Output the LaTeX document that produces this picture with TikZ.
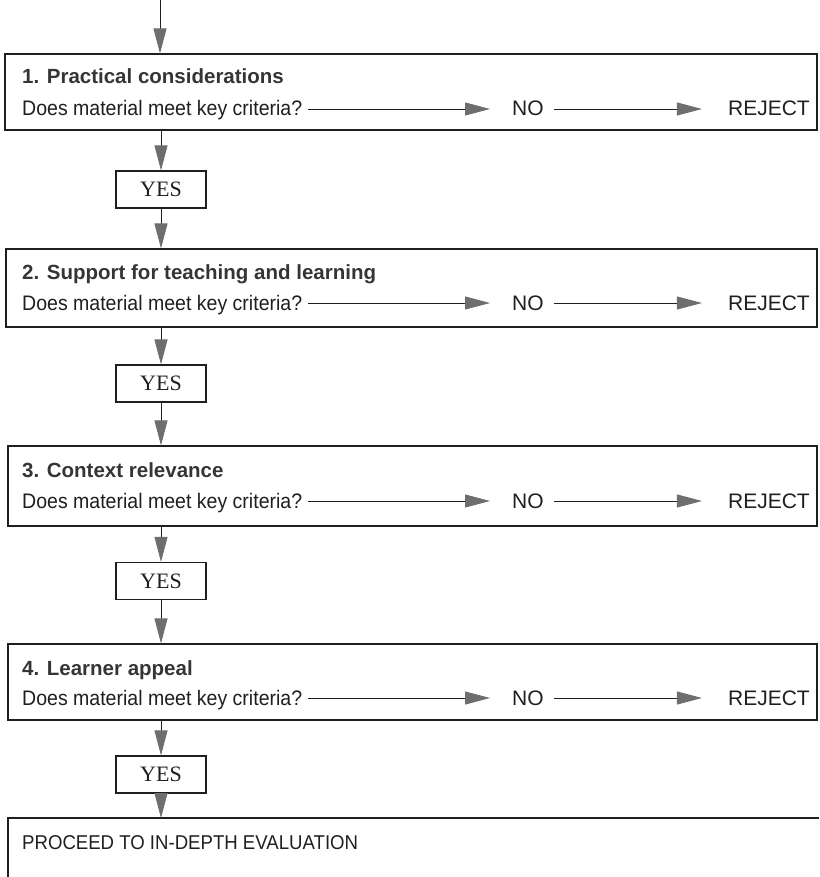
\documentclass[tikz,border=0pt]{standalone}
\usepackage{fontspec}
\setmainfont{Liberation Serif}
\newfontfamily\labelsans[FakeStretch=0.93]{Liberation Sans}
\newfontfamily\plainsans{Liberation Sans}
\usetikzlibrary{arrows.meta}
\definecolor{ink}{HTML}{1F1F1F}
\definecolor{headgray}{HTML}{6E6E6E}
\tikzset{
  frame/.style={draw=ink, line width=1.1pt},
  stagebox/.style={frame, rectangle, inner sep=0pt},
  yesbox/.style={frame, rectangle, minimum width=90pt, minimum height=37pt,
    inner sep=0pt, text=ink, font=\fontsize{22}{25}\selectfont},
  txt/.style={inner sep=0pt, text height=16pt, text depth=2pt, text=ink,
    font=\labelsans\fontsize{21}{24}\selectfont},
  wordtxt/.style={txt, font=\plainsans\fontsize{21}{24}\selectfont},
  stagetitle/.style={txt, text=ink!90, font=\plainsans\bfseries\fontsize{20.5}{24}\selectfont},
  flow/.style={draw=ink, line width=0.9pt,
    -{Triangle[length=25pt,width=13pt,color=headgray,fill=headgray]}},
}
\begin{document}
\begin{tikzpicture}[x=1pt,y=-1pt]
\useasboundingbox (0,0) rectangle (819,877);

% the four screening stages, each followed by its YES box
\foreach \i/\xl/\yt/\yb/\tb/\qb/\lbl/\yc in {
  1/5/54/130/84/116/Practical considerations/189.5,
  2/6/249/327/279/310/Support for teaching and learning/383.5,
  3/8/446/526/477/508/Context relevance/581,
  4/8/644/720/675/705/Learner appeal/774.5}{
  \node[stagebox, minimum width={817-\xl}, minimum height={\yb-\yt}]
    (s\i) at ({(\xl+817)/2},{(\yt+\yb)/2}) {};
  \node[stagetitle, anchor=base west] (t\i) at (22,\tb) {\i. \lbl};
  \node[txt, anchor=base west] (q\i) at (22,\qb) {Does material meet key criteria?};
  \node[wordtxt, anchor=base west] (n\i) at (512,\qb) {NO};
  \node[wordtxt, anchor=base east] (r\i) at (810,\qb) {REJECT};
  \draw[flow] ([xshift=6pt]q\i.east) -- ([xshift=-22pt]n\i.west);
  \draw[flow] ([xshift=10pt]n\i.east) -- ([xshift=-26pt]r\i.west);
  \node[yesbox] (y\i) at (161,\yc) {YES};
  \draw[flow] (s\i.south -| y\i) -- (y\i.north);
}

% final stage, running off the bottom edge
\coordinate (fbl) at (8,877);
\coordinate (ftl) at (8,818);
\coordinate (ftr) at (819,818);
\draw[frame] (fbl) -- (ftl) -- (ftr);
\node[txt, anchor=base west, font=\labelsans\fontsize{20}{23}\selectfont]
  (fin) at (22,849) {PROCEED TO IN-DEPTH EVALUATION};

% entry arrow and links from each YES box to the next stage
\coordinate (entry) at (160,0);
\draw[flow] (entry) -- (entry |- s1.north);
\foreach \i/\j in {1/2,2/3,3/4}{
  \draw[flow] (y\i.south) -- (y\i.south |- s\j.north);
}
\draw[flow] (y4.south) -- (y4.south |- ftl);
\end{tikzpicture}
\end{document}
